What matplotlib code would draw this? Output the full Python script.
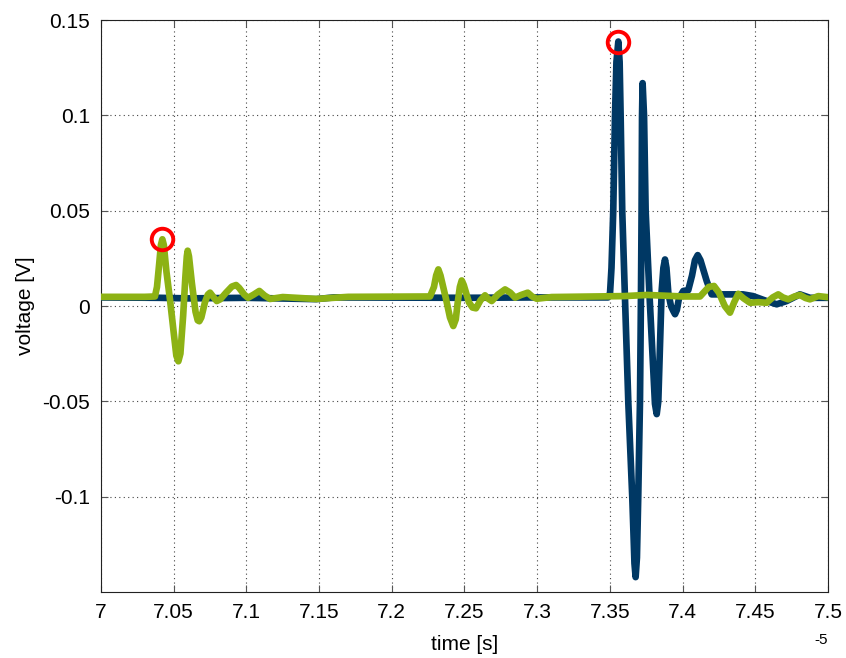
import matplotlib
matplotlib.use("Agg")
import matplotlib.pyplot as plt
from matplotlib.ticker import FuncFormatter
import numpy as np

# time axis in units of 1e-5 s, voltage in V
t_blue = [7.0000, 7.0400, 7.0600, 7.1000, 7.1480, 7.1600, 7.2500, 7.3000, 7.3487,
          7.3501, 7.3511, 7.3523, 7.3535, 7.3545, 7.3558, 7.3567, 7.3574, 7.3585,
          7.3604, 7.3627, 7.3654, 7.3669, 7.3677, 7.3686, 7.3695, 7.3707, 7.3714,
          7.3718, 7.3721, 7.3725, 7.3735, 7.3746, 7.3771, 7.3810, 7.3822, 7.3833,
          7.3856, 7.3868, 7.3879, 7.3889, 7.3902, 7.3920, 7.3936, 7.3948, 7.3961,
          7.3975, 7.4005, 7.4039, 7.4065, 7.4085, 7.4104, 7.4123, 7.4166, 7.4200,
          7.4257, 7.4415, 7.4484, 7.4578, 7.4647, 7.4716, 7.4807, 7.4876, 7.5000]
v_blue = [0.0045, 0.0043, 0.0040, 0.0043, 0.0036, 0.0045, 0.0043, 0.0045, 0.0045,
          0.0068, 0.0200, 0.0497, 0.0995, 0.1280, 0.1387, 0.1280, 0.0995, 0.0497,
          0.0035, -0.0513, -0.1005, -0.1350, -0.1422, -0.1320, -0.1000, -0.0500, 0.0080,
          0.0500, 0.0995, 0.1169, 0.0995, 0.0497, 0.0079, -0.0513, -0.0567, -0.0500,
          0.0079, 0.0200, 0.0244, 0.0200, 0.0068, 0.0000, -0.0026, -0.0043, -0.0020,
          0.0040, 0.0079, 0.0083, 0.0160, 0.0240, 0.0267, 0.0240, 0.0131, 0.0061,
          0.0061, 0.0061, 0.0052, 0.0026, 0.0009, 0.0026, 0.0061, 0.0043, 0.0043]

t_green = [7.0000, 7.0300, 7.0371, 7.0385, 7.0400, 7.0412, 7.0422, 7.0432, 7.0450,
           7.0475, 7.0500, 7.0518, 7.0532, 7.0546, 7.0565, 7.0580, 7.0590, 7.0596,
           7.0605, 7.0625, 7.0650, 7.0665, 7.0676, 7.0690, 7.0715, 7.0735, 7.0750,
           7.0770, 7.0796, 7.0820, 7.0860, 7.0900, 7.0929, 7.0950, 7.0985, 7.1011,
           7.1050, 7.1089, 7.1125, 7.1163, 7.1250, 7.1480, 7.1700, 7.2263, 7.2290,
           7.2305, 7.2320, 7.2335, 7.2372, 7.2400, 7.2423, 7.2440, 7.2452, 7.2468,
           7.2481, 7.2495, 7.2530, 7.2555, 7.2579, 7.2610, 7.2641, 7.2660, 7.2687,
           7.2730, 7.2779, 7.2815, 7.2848, 7.2890, 7.2935, 7.2965, 7.2997, 7.3100,
           7.3600, 7.3755, 7.4000, 7.4120, 7.4180, 7.4216, 7.4250, 7.4290, 7.4326,
           7.4355, 7.4383, 7.4420, 7.4464, 7.4521, 7.4578, 7.4620, 7.4658, 7.4690,
           7.4727, 7.4770, 7.4807, 7.4845, 7.4876, 7.4933, 7.5000]
v_green = [0.0048, 0.0048, 0.0050, 0.0100, 0.0220, 0.0320, 0.0350, 0.0320, 0.0180,
           0.0030, -0.0140, -0.0260, -0.0290, -0.0250, -0.0050, 0.0150, 0.0260, 0.0290,
           0.0260, 0.0120, -0.0030, -0.0075, -0.0080, -0.0060, 0.0020, 0.0060, 0.0070,
           0.0050, 0.0026, 0.0035, 0.0070, 0.0102, 0.0110, 0.0095, 0.0060, 0.0043,
           0.0060, 0.0079, 0.0055, 0.0037, 0.0047, 0.0037, 0.0048, 0.0050, 0.0100,
           0.0160, 0.0192, 0.0160, 0.0040, -0.0060, -0.0105, -0.0070, 0.0010, 0.0100,
           0.0134, 0.0110, 0.0020, -0.0008, -0.0012, 0.0030, 0.0056, 0.0040, 0.0026,
           0.0060, 0.0087, 0.0070, 0.0044, 0.0058, 0.0070, 0.0050, 0.0038, 0.0047,
           0.0052, 0.0058, 0.0050, 0.0050, 0.0100, 0.0105, 0.0070, 0.0000, -0.0035,
           0.0020, 0.0064, 0.0040, 0.0017, 0.0020, 0.0017, 0.0045, 0.0061, 0.0045,
           0.0035, 0.0050, 0.0058, 0.0042, 0.0035, 0.0052, 0.0046]

x_ticks = [7.0, 7.05, 7.1, 7.15, 7.2, 7.25, 7.3, 7.35, 7.4, 7.45, 7.5]
y_ticks = [-0.1, -0.05, 0.0, 0.05, 0.1, 0.15]

BLUE = "#003864"
GREEN = "#8DB214"
RED = "#FF0000"

plt.rcParams["font.family"] = ["Liberation Sans", "DejaVu Sans"]

fig = plt.figure(figsize=(8.46, 6.58), dpi=100)
ax = fig.add_axes([0.1194, 0.1003, 0.8593, 0.8693])

ax.plot(t_blue, v_blue, color=BLUE, lw=4.8, solid_joinstyle="round",
        solid_capstyle="round", zorder=3)
ax.plot(t_green, v_green, color=GREEN, lw=4.8, solid_joinstyle="round",
        solid_capstyle="round", zorder=4)

# mark the maximum of each trace
for tt, vv in ((t_green, v_green), (t_blue, v_blue)):
    i = int(np.argmax(vv))
    ax.plot(tt[i], vv[i], "o", ms=15.5, mfc="none", mec=RED, mew=2.8, zorder=5)

ax.set_xlim(7.0, 7.5)
ax.set_ylim(-0.15, 0.15)
ax.set_xticks(x_ticks)
ax.set_yticks(y_ticks)
ax.xaxis.set_major_formatter(FuncFormatter(lambda v, p: f"{v:g}"))
ax.yaxis.set_major_formatter(FuncFormatter(lambda v, p: "0" if abs(v) < 1e-12 else f"{v:g}"))

ax.grid(True, color="#444444", linestyle=(0, (1, 3)), linewidth=0.8)
ax.set_axisbelow(True)
ax.tick_params(direction="in", length=5, width=0.8, color="#555555",
               top=True, right=True, labelsize=15, pad=8)
for s in ax.spines.values():
    s.set_color("#222222")
    s.set_linewidth(0.8)

ax.set_xlabel("time [s]", fontsize=15, labelpad=9)
ax.set_ylabel("voltage [V]", fontsize=15, labelpad=5)
ax.text(1.0, -0.072, "-5", transform=ax.transAxes, fontsize=11, ha="right", va="top")

fig.savefig("out.png", dpi=100)
